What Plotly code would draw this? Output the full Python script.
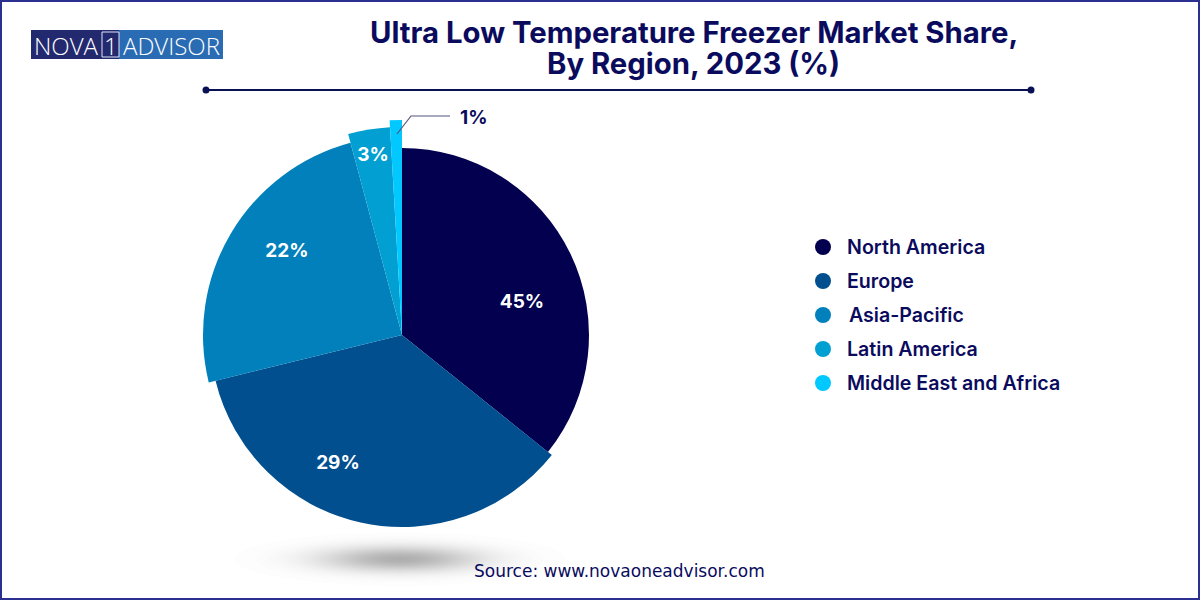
import math

import plotly.graph_objects as go

# values printed on the chart
regions = ["North America", "Europe", "Asia-Pacific", "Latin America", "Middle East and Africa"]
share_labels = ["45%", "29%", "22%", "3%", "1%"]
# the drawn wedges are not proportional to the labels, so these are read off the picture
sweep_deg = [128.7, 127.5, 88.8, 11.7, 3.3]
wedge_radius = [187, 192, 199, 208, 215]
colors = ["#02004f", "#024f8f", "#0180bb", "#029fd2", "#01c8ff"]

label_r = [124, 144, 141.8, 180.8]
label_theta = [75.3, 206.4, 305.8, 350.8]

NAVY = "#0b0b5e"
BODY_FONT = "Inter"

fig = go.Figure()

# wedges
start = 0
thetas = []
for sweep in sweep_deg:
    thetas.append(start + sweep / 2)
    start += sweep

for i in range(len(regions)):
    fig.add_trace(go.Barpolar(
        r=[wedge_radius[i]],
        theta=[thetas[i]],
        width=[sweep_deg[i]],
        name=regions[i],
        marker=dict(color=colors[i], line=dict(width=0)),
        showlegend=False,
    ))

# percent labels sitting on the wedges
fig.add_trace(go.Scatterpolar(
    r=label_r,
    theta=label_theta,
    mode="text",
    text=share_labels[:4],
    textfont=dict(family=BODY_FONT, size=19, color="white", weight=700),
    showlegend=False,
))

# legend, drawn on a hidden pixel axis so the spacing matches
legend_y = [247 + 34 * i for i in range(len(regions))]
legend_x = [847, 847, 849, 847, 847]
fig.add_trace(go.Scatter(
    x=[823] * len(regions),
    y=legend_y,
    mode="markers",
    marker=dict(size=16, color=colors, line=dict(width=0)),
    showlegend=False,
))
fig.add_trace(go.Scatter(
    x=legend_x,
    y=[y + 2 for y in legend_y],
    mode="text",
    text=regions,
    textposition="middle right",
    textfont=dict(family=BODY_FONT, size=19.6, color=NAVY, weight=600),
    showlegend=False,
))

shapes = []

# soft shadow under the pie, gaussian falloff from stacked faint ellipses
n_layers = 40
for i in range(n_layers):
    spread = math.sqrt(-2 * math.log((i + 0.5) / n_layers))
    rx = 56 * spread
    ry = 9 * spread
    shapes.append(dict(type="circle", layer="below", xref="x", yref="y",
                       x0=400 - rx, x1=400 + rx, y0=559 - ry, y1=559 + ry,
                       fillcolor="rgba(90,90,90,0.012)", line=dict(width=0)))

# page border
shapes.append(dict(type="rect", xref="x", yref="y", x0=1, x1=1199, y0=1, y1=599,
                   line=dict(color="#2b3090", width=2)))

# rule under the title
shapes.append(dict(type="line", xref="x", yref="y", x0=206, x1=1031, y0=90, y1=90,
                   line=dict(color="#0a1055", width=2)))
for x_dot in [206, 1031]:
    shapes.append(dict(type="circle", xref="x", yref="y", x0=x_dot - 3.5, x1=x_dot + 3.5,
                       y0=86.5, y1=93.5, fillcolor="#0a1055", line=dict(width=0)))

# leader for the 1% label
shapes.append(dict(type="path", xref="x", yref="y", path="M 397 134 L 411 116 L 450 116",
                   line=dict(color="#55557f", width=1.2)))

# logo
shapes.append(dict(type="rect", xref="x", yref="y", x0=31, x1=119, y0=30, y1=59,
                   fillcolor="#23296f", line=dict(width=0)))
shapes.append(dict(type="rect", xref="x", yref="y", x0=119, x1=223, y0=30, y1=59,
                   fillcolor="#2a6cb4", line=dict(width=0)))
shapes.append(dict(type="rect", xref="x", yref="y", x0=102, x1=119, y0=32, y1=57,
                   line=dict(color="#dfe6f5", width=1)))

annotations = []


def add_text(x, y, text, size, color, family=BODY_FONT, weight=400, anchor="center"):
    annotations.append(dict(xref="x", yref="y", x=x, y=y, text=text, showarrow=False,
                            xanchor=anchor, yanchor="middle",
                            font=dict(family=family, size=size, color=color, weight=weight)))


add_text(693.5, 32, "Ultra Low Temperature Freezer Market Share,", 29.3, NAVY, weight=700)
add_text(693.5, 63.5, "By Region, 2023 (%)", 29.3, NAVY, weight=700)
add_text(474, 117, share_labels[4], 19, NAVY, weight=700)
add_text(619, 571, "Source: www.novaoneadvisor.com", 17, NAVY, family="DejaVu Sans")
add_text(66.5, 45, "NOVA", 24, "white", family="Open Sans", weight=300)
add_text(110.5, 45, "1", 24, "white", family="Open Sans", weight=300)
add_text(171.5, 45, "ADVISOR", 24, "white", family="Open Sans", weight=300)

fig.update_layout(
    width=1200,
    height=600,
    margin=dict(l=0, r=0, t=0, b=0),
    paper_bgcolor="white",
    plot_bgcolor="rgba(0,0,0,0)",
    showlegend=False,
    # 500 px square around the apex at (402, 335), so r is in pixels
    polar=dict(
        domain=dict(x=[152 / 1200, 652 / 1200], y=[1 - 585 / 600, 1 - 85 / 600]),
        bgcolor="rgba(0,0,0,0)",
        angularaxis=dict(rotation=90, direction="clockwise", visible=False),
        radialaxis=dict(range=[0, 250], visible=False),
        barmode="overlay",
    ),
    xaxis=dict(range=[0, 1200], domain=[0, 1], visible=False, fixedrange=True),
    yaxis=dict(range=[600, 0], domain=[0, 1], visible=False, fixedrange=True),
    shapes=shapes,
    annotations=annotations,
)

# browser default body margin would push the 1200x600 figure off the page
fig.write_html("out.html", config=dict(displayModeBar=False),
               post_script="document.body.style.margin = '0';")
